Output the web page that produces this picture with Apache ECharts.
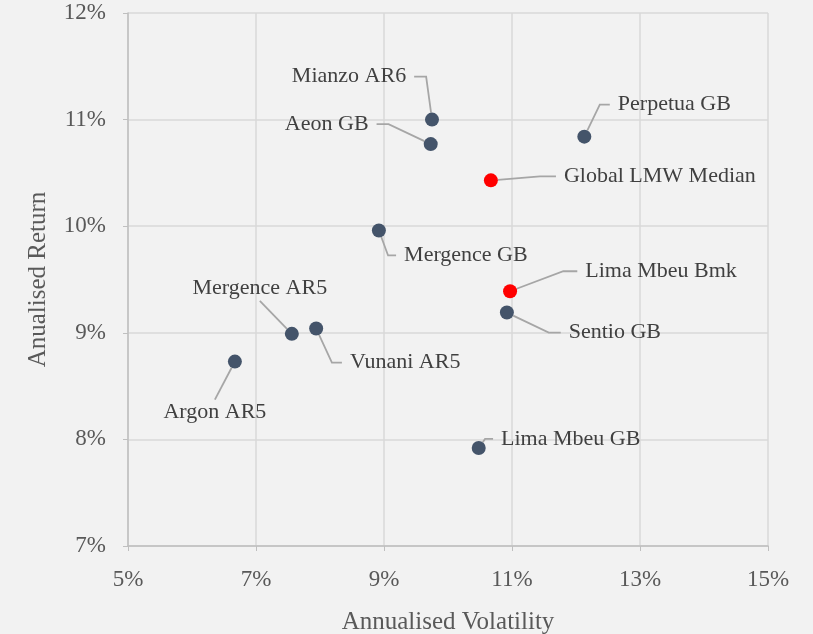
<!DOCTYPE html>
<html>
<head>
<meta charset="utf-8">
<script src="https://cdn.jsdelivr.net/npm/echarts@6/dist/echarts.min.js"></script>
<style>
  html, body { margin: 0; padding: 0; background: #f2f2f2; }
  #chart { width: 813px; height: 634px; }
</style>
</head>
<body>
<div id="chart"></div>
<script>
// fund names and (volatility %, return %)
const fundNames = ['Mianzo AR6', 'Aeon GB', 'Perpetua GB', 'Mergence GB', 'Sentio GB',
  'Mergence AR5', 'Vunani AR5', 'Argon AR5', 'Lima Mbeu GB']
const fundVol = [9.75, 9.73, 12.13, 8.92, 10.92, 7.56, 7.94, 6.67, 10.48]
const fundRet = [11.0, 10.77, 10.84, 9.96, 9.19, 8.99, 9.04, 8.73, 7.92]

const bmkNames = ['Global LMW Median', 'Lima Mbeu Bmk']
const bmkVol = [10.67, 10.97]
const bmkRet = [10.43, 9.39]

const xTicks = [5, 7, 9, 11, 13, 15]
const yTicks = [7, 8, 9, 10, 11, 12]

// label placement (pixel offset from the marker, elbow length)
const labelOffsets = {
  'Mianzo AR6': [-83, -43, 12],
  'Aeon GB': [-104, -20, 12],
  'Perpetua GB': [90, -32, 10],
  'Mergence GB': [87, 25, 8],
  'Sentio GB': [108, 20, 12],
  'Mergence AR5': [-32, -46, 0],
  'Vunani AR5': [89, 34, 10],
  'Argon AR5': [-20, 51, 0],
  'Lima Mbeu GB': [92, -9, 8],
  'Global LMW Median': [169, -4, 16],
  'Lima Mbeu Bmk': [151, -20, 14]
}

const fontFamily = 'Liberation Serif'
const labelColor = '#404040'
const axisColor = '#595959'

const chart = echarts.init(document.getElementById('chart'))

function buildData (names, xs, ys) {
  return names.map((name, i) => ({
    name: name,
    value: [xs[i], ys[i]],
    labelLine: { length2: labelOffsets[name][2] }
  }))
}

function layoutFor (names) {
  return params => {
    const o = labelOffsets[names[params.dataIndex]]
    return { dx: o[0], dy: o[1] }
  }
}

const pointLabel = {
  show: true,
  position: 'inside',
  formatter: '{b}',
  color: labelColor,
  fontFamily: fontFamily,
  fontSize: 22,
  padding: [2, 8],
  backgroundColor: 'rgba(0,0,0,0)',
  textBorderWidth: 0
}

const pointLabelLine = {
  show: true,
  lineStyle: { color: '#a6a6a6', width: 1.8 }
}

const option = {
  backgroundColor: '#f2f2f2',
  animation: false,
  grid: { left: 128, right: 45, top: 13, bottom: 88, outerBoundsMode: 'none' },
  xAxis: {
    type: 'value',
    min: xTicks[0],
    max: xTicks[xTicks.length - 1],
    interval: 2,
    name: 'Annualised Volatility',
    nameLocation: 'middle',
    nameGap: 64,
    nameTextStyle: { color: axisColor, fontFamily: fontFamily, fontSize: 25 },
    axisLine: { show: true, lineStyle: { color: '#bfbfbf', width: 1.5 } },
    axisTick: { show: true, length: 5, lineStyle: { color: '#bfbfbf' } },
    axisLabel: {
      color: axisColor, fontFamily: fontFamily, fontSize: 23, margin: 22,
      formatter: '{value}%'
    },
    splitLine: { show: true, lineStyle: { color: '#d9d9d9', width: 1.5 } }
  },
  yAxis: {
    type: 'value',
    min: yTicks[0],
    max: yTicks[yTicks.length - 1],
    interval: 1,
    name: 'Anualised Return',
    nameLocation: 'middle',
    nameGap: 77,
    nameTextStyle: { color: axisColor, fontFamily: fontFamily, fontSize: 25 },
    axisLine: { show: true, lineStyle: { color: '#bfbfbf', width: 1.5 } },
    axisTick: { show: true, length: 5, lineStyle: { color: '#bfbfbf' } },
    axisLabel: {
      color: axisColor, fontFamily: fontFamily, fontSize: 23, margin: 22,
      formatter: '{value}%'
    },
    splitLine: { show: true, lineStyle: { color: '#d9d9d9', width: 1.5 } }
  },
  series: [
    {
      type: 'scatter',
      symbolSize: 14,
      itemStyle: { color: '#44546a', opacity: 1 },
      data: buildData(fundNames, fundVol, fundRet),
      label: pointLabel,
      labelLine: pointLabelLine,
      labelLayout: layoutFor(fundNames)
    },
    {
      type: 'scatter',
      symbolSize: 14,
      itemStyle: { color: '#ff0000', opacity: 1 },
      data: buildData(bmkNames, bmkVol, bmkRet),
      label: pointLabel,
      labelLine: pointLabelLine,
      labelLayout: layoutFor(bmkNames)
    }
  ]
}

chart.setOption(option)
</script>
</body>
</html>
